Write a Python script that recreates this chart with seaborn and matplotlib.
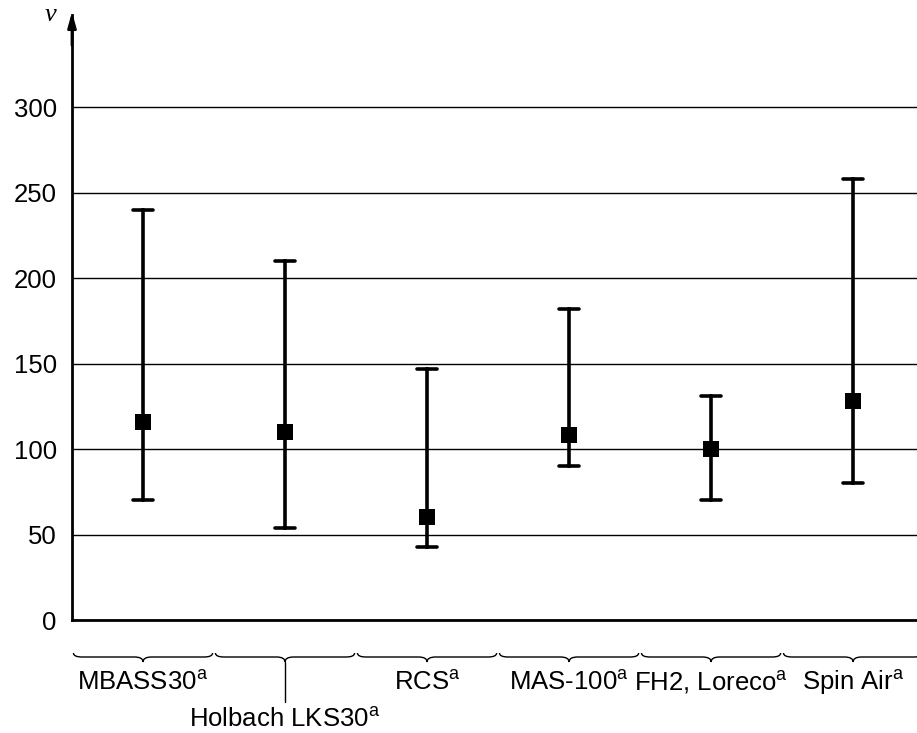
import numpy as np
import pandas as pd
import seaborn as sns
import matplotlib.pyplot as plt
from matplotlib.path import Path
from matplotlib.patches import PathPatch
from matplotlib.transforms import blended_transform_factory

# Datos
equipos = ["MBASS30", "Holbach LKS30", "RCS", "MAS-100", "FH2, Loreco", "Spin Air"]
minimo = [70, 54, 43, 90, 70, 80]
central = [116, 110, 60, 108, 100, 128]
maximo = [240, 210, 147, 182, 131, 258]
yticks = [0, 50, 100, 150, 200, 250, 300]

sns.set_style("white")
plt.rcParams["font.family"] = ["Liberation Sans", "DejaVu Sans"]
plt.rcParams["mathtext.fontset"] = "custom"
plt.rcParams["mathtext.rm"] = "Liberation Sans"
plt.rcParams["text.color"] = "black"
plt.rcParams["ytick.color"] = "black"

# Formato largo: min, centro y max por equipo
data = pd.DataFrame({
    "equipo": np.repeat(equipos, 3),
    "valor": np.ravel(np.column_stack([minimo, central, maximo])),
})

fig = plt.figure(figsize=(9.17, 7.33), dpi=100)
ax = fig.add_axes([72 / 917, 113 / 733, 845 / 917, 605 / 733])

sns.pointplot(data=data, x="equipo", y="valor", estimator="median",
              errorbar=lambda v: (v.min(), v.max()), capsize=0.14,
              linestyle="none", marker="s", markersize=11.5, markeredgewidth=0,
              color="black", err_kws={"linewidth": 2.6}, ax=ax)

ax.set_xlim(-0.5, 5.45)
ax.set_ylim(0, 354)
ax.set_yticks(yticks)
ax.set_xlabel("")
ax.set_ylabel("")
ax.set_xticklabels([])
ax.yaxis.grid(True, color="black", linewidth=1)
ax.set_axisbelow(True)
ax.tick_params(axis="y", length=0, pad=11, labelsize=18.5, labelcolor="black")
ax.tick_params(axis="x", length=0)
ax.set_xticks(np.arange(0.5, 5, 1), minor=True)
ax.tick_params(axis="x", which="minor", direction="in", length=11, width=1, color="black")

for s in ["top", "right"]:
    ax.spines[s].set_visible(False)
for s in ["left", "bottom"]:
    ax.spines[s].set_linewidth(2)
    ax.spines[s].set_color("black")

# Flecha del eje y
ax.annotate("", xy=(0, 1.005), xytext=(0, 0.95), xycoords="axes fraction",
            arrowprops=dict(arrowstyle="-|>,head_length=0.9,head_width=0.25",
                            color="black", lw=2, shrinkA=0, shrinkB=0))
fig.text(51 / 917, 1 - 15 / 733, "ν", fontsize=19, style="italic",
         family="Liberation Serif", ha="center", va="center")

# Llaves bajo cada categoría
tr = blended_transform_factory(ax.transData, ax.transAxes)
px = 1 / 605
for i, nombre in enumerate(equipos):
    x0, x1, xm = i - 0.49, i + 0.49, i
    d = 0.06
    ye, yl, yt = -33 * px, -37 * px, -42 * px
    verts = [(x0, ye), (x0, yl), (x0 + d, yl), (xm - d, yl), (xm, yl), (xm, yt),
             (xm, yl), (xm + d, yl), (x1 - d, yl), (x1, yl), (x1, ye)]
    codes = [Path.MOVETO, Path.CURVE3, Path.CURVE3, Path.LINETO, Path.CURVE3, Path.CURVE3,
             Path.CURVE3, Path.CURVE3, Path.LINETO, Path.CURVE3, Path.CURVE3]
    ax.add_patch(PathPatch(Path(verts, codes), fill=False, lw=1, color="black",
                           transform=tr, clip_on=False))
    etiqueta = nombre + r"$^{\mathrm{a}}$"
    if i == 1:
        ax.plot([xm, xm], [yt, -82 * px], color="black", lw=1, transform=tr, clip_on=False)
        ax.text(xm, -99 * px, etiqueta, transform=tr, ha="center", va="center", fontsize=18.5)
    else:
        ax.text(xm, -62 * px, etiqueta, transform=tr, ha="center", va="center", fontsize=18.5)

fig.savefig("out.png", dpi=100)
